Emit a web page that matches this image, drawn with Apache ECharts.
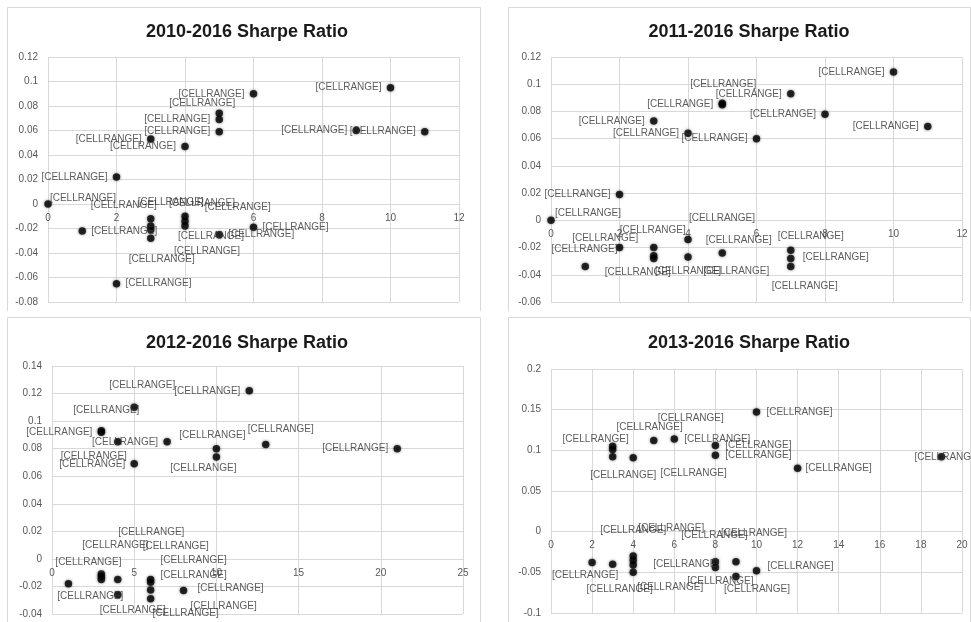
<!DOCTYPE html>
<html>
<head>
<meta charset="utf-8">
<script src="https://cdn.jsdelivr.net/npm/echarts@6/dist/echarts.min.js"></script>
<style>
html,body{margin:0;padding:0;background:#fff;}
#chart{width:971px;height:622px;}
</style>
</head>
<body>
<div id="chart"></div>
<script>
// ---- data ----
const titles = ['2010-2016 Sharpe Ratio', '2011-2016 Sharpe Ratio', '2012-2016 Sharpe Ratio', '2013-2016 Sharpe Ratio'];
const pointLabel = '[CELLRANGE]';

const p1X = [6, 10, 5, 5, 5, 9, 11, 3, 4, 2, 0, 1, 3, 3, 3, 3, 4, 4, 4, 5, 6, 2];
const p1Y = [0.090, 0.095, 0.074, 0.069, 0.059, 0.060, 0.059, 0.053, 0.047, 0.022, 0, -0.022, -0.012, -0.018, -0.021, -0.028, -0.010, -0.014, -0.018, -0.025, -0.019, -0.065];

const p2X = [10, 7, 5, 5, 8, 11, 3, 4, 6, 2, 0, 2, 1, 3, 3, 3, 4, 4, 5, 7, 7, 7];
const p2Y = [0.109, 0.093, 0.085, 0.086, 0.078, 0.069, 0.073, 0.064, 0.060, 0.019, 0, -0.020, -0.034, -0.020, -0.026, -0.028, -0.014, -0.027, -0.024, -0.022, -0.028, -0.034];

const p3X = [12, 5, 3, 3, 4, 7, 10, 10, 13, 21, 5, 1, 3, 3, 3, 4, 4, 6, 6, 6, 6, 8];
const p3Y = [0.122, 0.110, 0.093, 0.092, 0.085, 0.085, 0.080, 0.074, 0.083, 0.080, 0.069, -0.018, -0.011, -0.013, -0.015, -0.015, -0.026, -0.015, -0.017, -0.0225, -0.029, -0.023];

const p4X = [10, 6, 5, 3, 3, 4, 3, 8, 8, 12, 19, 2, 3, 4, 4, 4, 4, 8, 8, 9, 9, 10];
const p4Y = [0.147, 0.114, 0.112, 0.105, 0.101, 0.091, 0.092, 0.106, 0.094, 0.078, 0.092, -0.038, -0.040, -0.030, -0.035, -0.041, -0.050, -0.037, -0.044, -0.037, -0.055, -0.048];

// axis ranges (min, max, interval)
const xRanges = [[0, 12, 2], [0, 12, 2], [0, 25, 5], [0, 20, 2]];
const yRanges = [[-0.08, 0.12, 0.02], [-0.06, 0.12, 0.02], [-0.04, 0.14, 0.02], [-0.1, 0.2, 0.05]];

// ---- style: label placement (pixel shift of each data label from its dot) ----
const L = [-42, 0], R = [42, 0];
const p1Shift = [L, L, [-17, -10], L, L, L, L, L, L, L, [35, -6], R, [-27, -13], [20, -24], [87, -22], [11, 21], [17, -13], [26, 15], [22, 25], R, R, R];
const p2Shift = [L, L, L, [1, -19], L, L, L, L, L, L, [37, -7], [-35, 2], [20, -28], [-1, -17], [-16, 17], [85, -18], [34, -21], [0, 14], [14, 18], [20, -14], [45, -1], [14, 20]];
const p3Shift = [L, [8, -22], [5, -21], L, [-24, 14], L, [-4, -13], [-13, 11], [15, -15], L, L, [20, -21], [14, -29], [50, -45], [-11, 17], [58, -33], [15, 16], [43, -19], [43, -7], [73, 16], [35, 14], [47, -2]];
const p4Shift = [[43, 0], [43, 0], [37, -22], [37, -19], [-17, -10], [-10, 18], [81, 16], [43, 0], [43, 0], [41, 0], [6, 0], [-7, 13], [7, 25], [0, -26], [38, -32], [53, -1], [37, 15], [-1, -27], [5, 14], [18, -29], [21, 13], [44, -4]];

const grids = [
  {left: 48, top: 57, width: 411, height: 245},
  {left: 551, top: 57, width: 411, height: 245},
  {left: 52, top: 366, width: 411, height: 248},
  {left: 551, top: 369, width: 411, height: 244}
];
const titlePos = [[242, 18], [744, 18], [242, 329], [744, 329]];

const gridColor = '#d9d9d9';
const FONT = 'Liberation Sans';

const panels = [[p1X, p1Y, p1Shift], [p2X, p2Y, p2Shift], [p3X, p3Y, p3Shift], [p4X, p4Y, p4Shift]];

// the horizontal axis crosses the vertical one at y = 0: lift it from the grid bottom accordingly
function zeroLift(i) {
  const r = yRanges[i];
  return grids[i].height * (0 - r[0]) / (r[1] - r[0]);
}

const option = {
  animation: false,
  backgroundColor: '#fff',
  title: titles.map((t, i) => ({
    text: t, left: titlePos[i][0], top: titlePos[i][1], textAlign: 'center',
    textStyle: {fontFamily: FONT, fontSize: 18, fontWeight: 'bold', color: '#1a1a1a'}
  })),
  grid: grids,
  xAxis: xRanges.map((r, i) => ({
    type: 'value', gridIndex: i, min: r[0], max: r[1], interval: r[2],
    position: 'bottom', offset: -zeroLift(i),
    axisLine: {show: true, onZero: false, lineStyle: {color: gridColor}},
    axisTick: {show: false},
    splitLine: {show: true, lineStyle: {color: gridColor}},
    axisLabel: {fontFamily: FONT, fontSize: 10, color: '#595959', margin: 9}
  })),
  yAxis: yRanges.map((r, i) => ({
    type: 'value', gridIndex: i, min: r[0], max: r[1], interval: r[2],
    axisLine: {show: false, onZero: false},
    axisTick: {show: false},
    splitLine: {show: true, lineStyle: {color: gridColor}},
    axisLabel: {fontFamily: FONT, fontSize: 10, color: '#595959', margin: 10}
  })),
  series: panels.map((p, i) => ({
    type: 'scatter', xAxisIndex: i, yAxisIndex: i,
    symbolSize: 7.5,
    itemStyle: {color: '#000', shadowBlur: 3, shadowColor: 'rgba(0,0,0,0.6)'},
    label: {show: true, position: 'inside', formatter: pointLabel,
      fontFamily: FONT, fontSize: 10, color: '#333'},
    data: p[0].map((x, j) => ({value: [x, p[1][j]], label: {offset: p[2][j]}}))
  })),
  graphic: [
    // panel frames
    {type: 'polyline', shape: {points: [[7.5, 311], [7.5, 7.5], [480.5, 7.5], [480.5, 311]]}, style: {stroke: gridColor, fill: null, lineWidth: 1}, silent: true},
    {type: 'polyline', shape: {points: [[508.5, 311], [508.5, 7.5], [970.5, 7.5], [970.5, 311]]}, style: {stroke: gridColor, fill: null, lineWidth: 1}, silent: true},
    {type: 'polyline', shape: {points: [[7.5, 622], [7.5, 317.5], [480.5, 317.5], [480.5, 622]]}, style: {stroke: gridColor, fill: null, lineWidth: 1}, silent: true},
    {type: 'polyline', shape: {points: [[508.5, 622], [508.5, 317.5], [970.5, 317.5], [970.5, 622]]}, style: {stroke: gridColor, fill: null, lineWidth: 1}, silent: true}
  ]
};

const chart = echarts.init(document.getElementById('chart'), null, {renderer: 'canvas'});
chart.setOption(option);
</script>
</body>
</html>
